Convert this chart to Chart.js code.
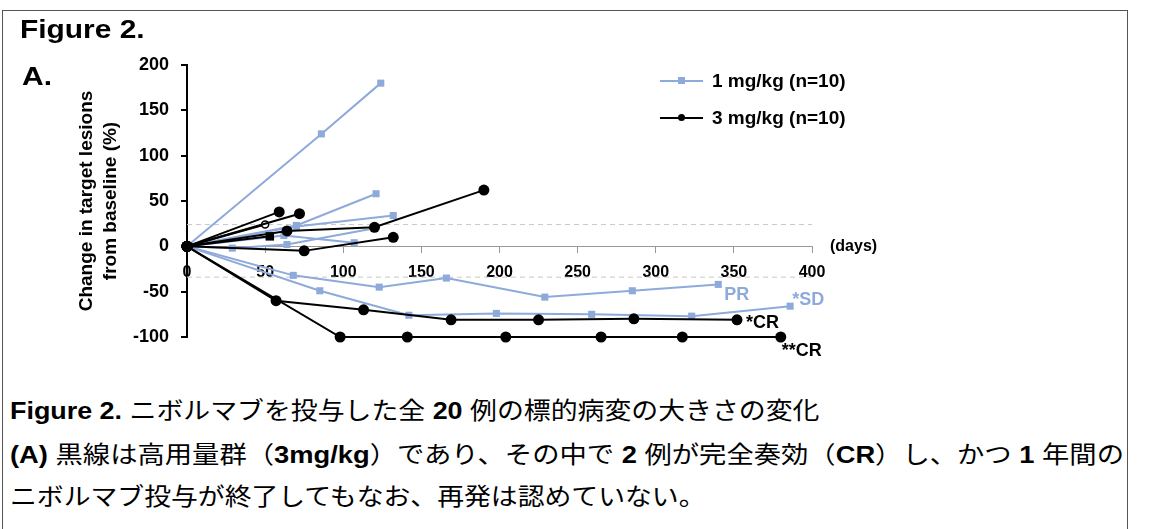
<!DOCTYPE html>
<html>
<head>
<meta charset="utf-8">
<script src="https://cdn.jsdelivr.net/npm/chart.js@4.4.0/dist/chart.umd.min.js"></script>
<style>
  body { margin: 0; background: #fff; width: 1151px; height: 529px; overflow: hidden;
         font-family: "Liberation Sans", Arial, "Noto Sans CJK JP", sans-serif; color: #000; }
  #frame { position: absolute; left: 2px; top: 10px; width: 1124px; height: 540px; border: 1px solid #555; }
  #wrap { position: absolute; left: 0; top: 0; width: 1151px; height: 380px; }
  .big { position: absolute; font-weight: bold; line-height: 1; transform-origin: left top; white-space: nowrap; }
  .leg-line { position: absolute; height: 2px; width: 43px; left: 660px; }
  .leg-text { position: absolute; left: 712px; font-weight: bold; font-size: 19px; line-height: 22px; white-space: nowrap; }
  .cap { position: absolute; left: 10px; font-size: 24px; line-height: 24px; white-space: nowrap;
         font-family: "Liberation Sans", Arial, "Noto Sans CJK JP", sans-serif; transform-origin: left center; }
  .cap b { font-weight: bold; }
</style>
</head>
<body>
<div id="frame"></div>
<div id="wrap"><canvas id="chart"></canvas></div>

<div class="big" style="left:20px; top:16px; font-size:26px; transform:scaleX(1.15);">Figure 2.</div>
<div class="big" style="left:22px; top:64px; font-size:25px; transform:scaleX(1.2);">A.</div>

<div class="leg-line" style="top:80px; background:#8eaadb;"></div>
<div style="position:absolute; left:678px; top:77px; width:7px; height:7px; background:#8eaadb;"></div>
<div class="leg-text" style="top:70px;">1 mg/kg (n=10)</div>
<div class="leg-line" style="top:117px; background:#000;"></div>
<div style="position:absolute; left:678px; top:114px; width:7px; height:7px; border-radius:50%; background:#000;"></div>
<div class="leg-text" style="top:107px;">3 mg/kg (n=10)</div>

<div class="cap" style="top:399px; transform:scaleX(1.12);"><b>Figure 2.</b> ニボルマブを投与した全 <b>20</b> 例の標的病変の大きさの変化</div>
<div class="cap" style="top:443px; transform:scaleX(1.138);"><b>(A)</b> 黒線は高用量群（<b>3mg/kg</b>）であり、その中で <b>2</b> 例が完全奏効（<b>CR</b>）し、かつ <b>1</b> 年間の</div>
<div class="cap" style="top:485px; transform:scaleX(1.118);">ニボルマブ投与が終了してもなお、再発は認めていない。</div>

<script>
// 1 mg/kg patients: days from baseline and % change in target lesions
const lowDoseDays = [
  [0, 86, 124],
  [0, 70, 121],
  [0, 70, 132],
  [0, 29, 64, 120],
  [0, 62, 107],
  [0, 68, 123, 166, 229, 285, 340],
  [0, 85, 142, 198, 259, 323, 386]
];
const lowDoseChange = [
  [0, 124, 180],
  [0, 23, 58],
  [0, 22, 34],
  [0, -2, 2, 20],
  [0, 12, 4],
  [0, -32, -45, -35, -56, -49, -42],
  [0, -49, -76, -74, -75, -77, -66]
];

// 3 mg/kg patients
const highDoseDays = [
  [0, 59],
  [0, 72],
  [0, 50],
  [0, 64, 120, 190],
  [0, 53],
  [0, 75, 132],
  [0, 57, 113, 169, 225, 286, 352],
  [0, 98, 141, 204, 265, 317, 380]
];
const highDoseChange = [
  [0, 38],
  [0, 36],
  [0, 24],
  [0, 17, 21, 62],
  [0, 11],
  [0, -5, 10],
  [0, -60, -70, -81, -81, -80, -81],
  [0, -100, -100, -100, -100, -100, -100]
];

const thresholds = [24, -34];
const dayRange = [0, 400];

const BLUE = '#8eaadb';
const FONT = '"Liberation Sans", Arial, sans-serif';

const toPoints = (days, vals) => days.map((d, i) => ({ x: d, y: vals[i] }));

const datasets = [];

thresholds.forEach(t => {
  datasets.push({
    data: toPoints(dayRange, [t, t]),
    borderColor: '#c8c8c8',
    borderWidth: 1,
    borderDash: [5, 4],
    pointRadius: 0,
    order: 10
  });
});

lowDoseDays.forEach((days, i) => {
  datasets.push({
    data: toPoints(days, lowDoseChange[i]),
    borderColor: BLUE,
    backgroundColor: BLUE,
    borderWidth: 2,
    pointStyle: 'rect',
    pointRadius: 5,
    pointBorderWidth: 0,
    order: 5
  });
});

highDoseDays.forEach((days, i) => {
  const open = i === 2;   // patient drawn with a small open marker
  const square = i === 4; // patient drawn with a square marker
  datasets.push({
    data: toPoints(days, highDoseChange[i]),
    borderColor: '#000',
    backgroundColor: '#000',
    borderWidth: 2,
    pointStyle: days.map((d, j) => (square && j > 0) ? 'rect' : 'circle'),
    pointRadius: days.map((d, j) => (open && j > 0) ? 3.5 : (square && j > 0 ? 6 : 5.5)),
    pointBackgroundColor: days.map((d, j) => (open && j > 0) ? '#fff' : '#000'),
    pointBorderColor: '#000',
    pointBorderWidth: days.map((d, j) => (open && j > 0) ? 1.5 : 0),
    order: 1
  });
});

datasets.forEach(ds => { ds.clip = false; ds.tension = 0; });

const annotate = {
  id: 'annotate',
  afterDatasetsDraw(chart) {
    const { ctx, chartArea, scales: { x, y } } = chart;
    ctx.save();
    ctx.textBaseline = 'middle';
    ctx.textAlign = 'left';
    ctx.fillStyle = '#000';
    ctx.font = 'bold 16px ' + FONT;
    ctx.fillText('(days)', chartArea.right + 18, y.getPixelForValue(0));

    ctx.font = 'bold 18px ' + FONT;
    const tag = (text, days, vals, dx, dy, color) => {
      const k = days.length - 1;
      ctx.fillStyle = color;
      ctx.fillText(text, x.getPixelForValue(days[k]) + dx, y.getPixelForValue(vals[k]) + dy);
    };
    tag('PR', lowDoseDays[5], lowDoseChange[5], 6, 11, BLUE);
    tag('*SD', lowDoseDays[6], lowDoseChange[6], 2, -6, BLUE);
    tag('*CR', highDoseDays[6], highDoseChange[6], 9, 3, '#000');
    tag('**CR', highDoseDays[7], highDoseChange[7], 1, 14, '#000');
    ctx.restore();
  }
};

new Chart(document.getElementById('chart'), {
  type: 'line',
  data: { datasets },
  options: {
    responsive: true,
    maintainAspectRatio: false,
    animation: false,
    events: [],
    layout: { padding: { left: 75, top: 65, right: 339, bottom: 43 } },
    plugins: { legend: { display: false }, tooltip: { enabled: false } },
    scales: {
      x: {
        type: 'linear',
        position: { y: 0 },
        min: 0,
        max: 400,
        ticks: { stepSize: 50, color: '#000', font: { family: FONT, size: 16, weight: 'bold' }, padding: 11, maxRotation: 0 },
        grid: { drawOnChartArea: false, drawTicks: true, tickLength: 6, color: '#999' },
        border: { color: '#999', width: 1 }
      },
      y: {
        min: -100,
        max: 200,
        ticks: { stepSize: 50, color: '#000', font: { family: FONT, size: 18, weight: 'bold' }, padding: 12 },
        grid: { drawOnChartArea: false, drawTicks: true, tickLength: 6, color: '#000', lineWidth: 2 },
        border: { color: '#000', width: 2 },
        title: {
          display: true,
          text: ['Change in target lesions', 'from baseline (%)'],
          color: '#000',
          font: { family: FONT, size: 19, weight: 'bold', lineHeight: 1.25 },
          padding: 0
        },
        afterFit(scale) { scale.width = 112; }
      }
    }
  },
  plugins: [annotate]
});
</script>
</body>
</html>
